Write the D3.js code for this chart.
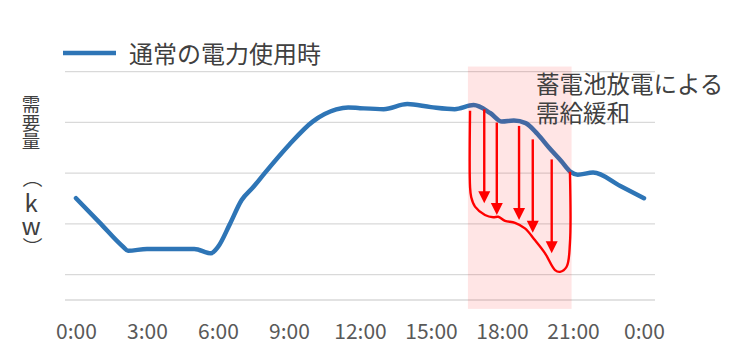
<!DOCTYPE html>
<html><head><meta charset="utf-8">
<script src="https://cdn.jsdelivr.net/npm/d3@7"></script>
<style>
html,body{margin:0;padding:0;background:#fff;}
svg{display:block;}
text{font-family:"Noto Sans CJK JP","Noto Sans",sans-serif;}
</style></head>
<body>
<svg id="chart" width="750" height="358"></svg>
<script>
// ---- data ----
const hours  = [0, 1, 2, 2.2, 3, 4, 5, 5.7, 6, 6.5, 7, 7.5, 8, 9, 10, 11, 11.5, 12, 13, 14, 15, 16, 16.8, 17.5, 18, 18.5, 19, 19.5, 20, 20.5, 20.9, 21.2, 21.85, 23, 24];
const demand = [30.1, 20.5, 10.9, 9.4, 10.1, 10.1, 10.1, 8.4, 10.9, 19.9, 29.4, 34.6, 40.3, 51.1, 60.3, 65.1, 65.9, 65.6, 65.2, 67.2, 66.0, 65.2, 66.8, 63.7, 60.3, 60.7, 59.7, 55.4, 49.9, 44.8, 40.5, 39.4, 40.2, 34.9, 30.1];

const dischargeHours  = [16.65, 16.65, 16.7, 16.86, 17.28, 17.63, 17.84, 18.13, 18.55, 18.97, 19.39, 19.82, 20.24, 20.45, 20.73, 20.87, 20.87];
const dischargeValues = [64.6, 34.6, 30.5, 26.8, 23.5, 22.6, 22.8, 21.2, 20.4, 18.2, 13.6, 8.4, 1.8, 1.1, 3.1, 12.3, 40.5];

const arrowHours = [17.25, 17.78, 18.72, 19.3, 20.1];
const arrowFrom  = [65.1, 59.9, 58.6, 53.3, 45.4];
const arrowTo    = [28.1, 23.5, 21.5, 16.5, 8.4];

const highlightHours  = [16.56, 20.94];
const highlightValues = [82, -13.5];

const xTickHours  = [0, 3, 6, 9, 12, 15, 18, 21, 24];
const xTickLabels = ["0:00", "3:00", "6:00", "9:00", "12:00", "15:00", "18:00", "21:00", "0:00"];
const gridValues  = [-10, 0, 20, 40, 60, 80];

const legendLabel = "通常の電力使用時";
const noteLines   = ["蓄電池放電による", "需給緩和"];
const yLabelChars = ["需", "要", "量", "（", "k", "w", "）"];

// ---- layout ----
const svg = d3.select("#chart");
const x = d3.scaleLinear().domain([0, 24]).range([76, 644]);
const y = d3.scaleLinear().domain([-10, 80]).range([300, 71.6]);
const gridX0 = 65, gridX1 = 655;
const blue = "#2E75B6", red = "#FF0000";

// grid
svg.append("g").selectAll("line").data(gridValues).join("line")
  .attr("x1", gridX0).attr("x2", gridX1)
  .attr("y1", d => y(d)).attr("y2", d => y(d))
  .attr("stroke", "#D9D9D9").attr("stroke-width", 1.4);

// x axis labels
const xAxis = d3.axisBottom(x).tickValues(xTickHours)
  .tickFormat((d, i) => xTickLabels[i]).tickSize(0).tickPadding(0);
const gx = svg.append("g").attr("transform", "translate(0,320)").call(xAxis);
gx.select(".domain").remove();
gx.selectAll("text").attr("font-size", 21).attr("fill", "#595959")
  .attr("dy", null).attr("y", 19)
  .style("font-family", '"Noto Sans CJK JP","Noto Sans",sans-serif');

// blue line
const pts = hours.map((h, i) => [h, demand[i]]);
svg.append("path").datum(pts)
  .attr("d", d3.line().x(d => x(d[0])).y(d => y(d[1])).curve(d3.curveMonotoneX))
  .attr("fill", "none").attr("stroke", blue).attr("stroke-width", 4.5)
  .attr("stroke-linecap", "round").attr("stroke-linejoin", "round");

// highlight rect
svg.append("rect")
  .attr("x", x(highlightHours[0])).attr("width", x(highlightHours[1]) - x(highlightHours[0]))
  .attr("y", y(highlightValues[0])).attr("height", y(highlightValues[1]) - y(highlightValues[0]))
  .attr("fill", red).attr("fill-opacity", 0.1);

// red discharge curve
const rpts = dischargeHours.map((h, i) => [h, dischargeValues[i]]);
svg.append("path").datum(rpts)
  .attr("d", d3.line().x(d => x(d[0])).y(d => y(d[1])).curve(d3.curveCatmullRom.alpha(0.5)))
  .attr("fill", "none").attr("stroke", red).attr("stroke-width", 2.4);

// arrows
const head = 12, headW = 12;
const ag = svg.append("g");
arrowHours.forEach((h, i) => {
  const ax = x(h), y0 = y(arrowFrom[i]), y1 = y(arrowTo[i]);
  ag.append("line").attr("x1", ax).attr("x2", ax).attr("y1", y0).attr("y2", y1 - head + 1)
    .attr("stroke", red).attr("stroke-width", 2.4);
  ag.append("path")
    .attr("d", `M${ax - headW / 2},${y1 - head}L${ax + headW / 2},${y1 - head}L${ax},${y1}Z`)
    .attr("fill", red);
});

// legend
svg.append("line").attr("x1", 63).attr("x2", 116).attr("y1", 53).attr("y2", 53)
  .attr("stroke", blue).attr("stroke-width", 4.5);
svg.append("text").attr("x", 129).attr("y", 63).attr("font-size", 24)
  .attr("fill", "#404040").text(legendLabel);

// note (one text block, two lines)
svg.append("text").attr("x", 536).attr("y", 93)
  .attr("font-size", 23.5).attr("fill", "#404040")
  .selectAll("tspan").data(noteLines).join("tspan")
  .attr("x", 536).attr("dy", (d, i) => i === 0 ? 0 : 29).text(d => d);

// y label (vertical)
const yl = [
  {c: yLabelChars[0], cx: 31, cy: 102.5, fs: 18.5, rot: 0},
  {c: yLabelChars[1], cx: 31, cy: 121.5, fs: 18.5, rot: 0},
  {c: yLabelChars[2], cx: 31, cy: 140,   fs: 18.5, rot: 0},
  {c: yLabelChars[3], cx: 33, cy: 178,   fs: 20, rot: 90},
  {c: yLabelChars[4], cx: 31, cy: 201,   fs: 24, rot: 0},
  {c: yLabelChars[5], cx: 31, cy: 224,   fs: 24, rot: 0},
  {c: yLabelChars[6], cx: 33, cy: 247,   fs: 20, rot: 90}
];
svg.append("g").selectAll("text").data(yl).join("text")
  .attr("text-anchor", "middle").attr("dominant-baseline", "central")
  .attr("transform", d => `translate(${d.cx},${d.cy}) rotate(${d.rot})`)
  .attr("font-size", d => d.fs).attr("fill", "#404040").text(d => d.c);
</script>
</body></html>
